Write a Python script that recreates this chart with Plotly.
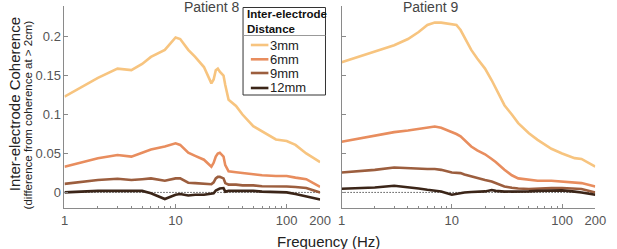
import plotly.graph_objects as go

# ---------------- data ----------------
freq8 = [1, 2, 3, 4, 5, 6, 8, 10, 11, 13, 15, 18, 21, 22, 23, 24, 25, 27, 28, 30, 35, 40, 50, 60, 80, 100, 120, 150, 200]
p8_3mm = [0.123, 0.147, 0.159, 0.157, 0.165, 0.174, 0.183, 0.199, 0.197, 0.183, 0.174, 0.161, 0.140, 0.145, 0.157, 0.159, 0.155, 0.150, 0.138, 0.119, 0.111, 0.100, 0.085, 0.078, 0.068, 0.066, 0.061, 0.050, 0.039]
p8_6mm = [0.033, 0.044, 0.048, 0.046, 0.051, 0.055, 0.059, 0.063, 0.061, 0.051, 0.047, 0.042, 0.033, 0.038, 0.046, 0.050, 0.051, 0.046, 0.035, 0.027, 0.026, 0.025, 0.024, 0.022, 0.021, 0.021, 0.019, 0.017, 0.007]
p8_9mm = [0.011, 0.016, 0.0175, 0.016, 0.017, 0.018, 0.015, 0.018, 0.018, 0.0125, 0.012, 0.011, 0.0105, 0.013, 0.018, 0.020, 0.020, 0.018, 0.012, 0.010, 0.010, 0.009, 0.009, 0.008, 0.008, 0.0077, 0.007, 0.0056, 0.0]
p8_12mm = [0.0, 0.002, 0.002, 0.0015, 0.002, -0.001, -0.0085, -0.003, -0.002, -0.004, -0.003, -0.003, -0.002, -0.001, 0.0025, 0.004, 0.005, 0.0056, 0.001, 0.002, 0.002, 0.002, 0.002, 0.001, 0.0005, 0.0, -0.002, -0.005, -0.009]

freq9 = [1, 2, 3, 4, 5, 6, 7, 8, 10, 11, 12, 13, 15, 17, 20, 23, 25, 30, 35, 40, 50, 60, 80, 100, 130, 150, 200]
p9_3mm = [0.167, 0.181, 0.189, 0.197, 0.206, 0.215, 0.218, 0.218, 0.216, 0.215, 0.2085, 0.200, 0.183, 0.172, 0.159, 0.144, 0.134, 0.112, 0.100, 0.089, 0.076, 0.0675, 0.056, 0.050, 0.044, 0.043, 0.033]
p9_6mm = [0.065, 0.0726, 0.0774, 0.0795, 0.0816, 0.083, 0.0846, 0.083, 0.078, 0.075, 0.072, 0.067, 0.059, 0.054, 0.049, 0.043, 0.039, 0.029, 0.022, 0.018, 0.016, 0.015, 0.015, 0.014, 0.013, 0.012, 0.0077]
p9_9mm = [0.0256, 0.029, 0.032, 0.031, 0.030, 0.030, 0.030, 0.029, 0.0256, 0.025, 0.0248, 0.023, 0.0205, 0.018, 0.016, 0.014, 0.012, 0.0077, 0.006, 0.005, 0.0043, 0.005, 0.0055, 0.0056, 0.005, 0.0043, 0.0]
p9_12mm = [0.0047, 0.0064, 0.0085, 0.0068, 0.005, 0.0034, 0.002, 0.0013, -0.003, -0.002, -0.001, 0.0, 0.0005, 0.001, 0.0013, 0.003, 0.002, 0.001, 0.001, 0.0013, 0.0013, 0.002, 0.0025, 0.0026, 0.001, 0.0, -0.003]

series_names = ["3mm", "6mm", "9mm", "12mm"]
series_colors = ["#F7C47F", "#E88D5E", "#9C5E3E", "#3B2518"]

x_tickvals = [1, 10, 100, 200]
x_ticktext = ["1", "10", "100", "200"]
x_minor = [2, 3, 4, 5, 6, 7, 8, 9, 20, 30, 40, 50, 60, 70, 80, 90]
y_tickvals = [0, 0.05, 0.1, 0.15, 0.2]
y_ticktext = ["0", "0.05", "0.1", "0.15", "0.2"]

# ---------------- figure ----------------
W, H = 617, 249
FONT = "Liberation Sans, Arial, Helvetica, sans-serif"
fig = go.Figure()

p8 = [p8_3mm, p8_6mm, p8_9mm, p8_12mm]
p9 = [p9_3mm, p9_6mm, p9_9mm, p9_12mm]
for name, col, ys in zip(series_names, series_colors, p8):
    fig.add_trace(go.Scatter(x=freq8, y=ys, mode="lines", name=name,
                             line=dict(color=col, width=2.6),
                             xaxis="x", yaxis="y", showlegend=False))
for name, col, ys in zip(series_names, series_colors, p9):
    fig.add_trace(go.Scatter(x=freq9, y=ys, mode="lines", name=name,
                             line=dict(color=col, width=2.6),
                             xaxis="x2", yaxis="y2", showlegend=False))

axis_common = dict(
    showline=True, linecolor="#8a8a8a", linewidth=1,
    ticks="inside", ticklen=4, tickcolor="#8a8a8a",
    showgrid=False, zeroline=False,
    tickfont=dict(family=FONT, size=13, color="#555555"),
)

xcommon = dict(axis_common, type="log", range=[0, 2.30103],
               tickmode="array", tickvals=x_tickvals, ticktext=x_ticktext,
               minor=dict(tickvals=x_minor, ticks="inside", ticklen=2, tickcolor="#8a8a8a"))
ycommon = dict(axis_common, range=[-0.02, 0.24], tickmode="array",
               tickvals=y_tickvals, ticktext=y_ticktext)

fig.update_layout(
    width=W, height=H,
    margin=dict(l=0, r=0, t=0, b=0),
    paper_bgcolor="white", plot_bgcolor="white",
    font=dict(family=FONT),
    xaxis=dict(xcommon, domain=[62 / W, 324 / W], anchor="y"),
    yaxis=dict(ycommon, domain=[1 - 208 / H, 1 - 5.5 / H], anchor="x"),
    xaxis2=dict(xcommon, domain=[346 / W, 606 / W], anchor="y2"),
    yaxis2=dict(ycommon, domain=[1 - 208 / H, 1 - 5.5 / H], anchor="x2", showticklabels=False),
    showlegend=False,
)

# dotted zero lines
for xr, yr in (("x domain", "y"), ("x2 domain", "y2")):
    fig.add_shape(type="line", xref=xr, yref=yr, x0=0, x1=1, y0=0, y1=0,
                  line=dict(color="black", width=1, dash="1px,2px"), layer="below")


def px(x):
    return x / W


def py(y):
    return 1 - y / H


# ---- custom legend (box, title, separator, entries) ----
fig.add_shape(type="rect", xref="paper", yref="paper",
              x0=px(245), x1=px(329.5), y0=py(95), y1=py(7.5),
              line=dict(color="#333333", width=1), fillcolor="white", layer="above")
fig.add_shape(type="line", xref="paper", yref="paper",
              x0=px(245), x1=px(329.5), y0=py(35.5), y1=py(35.5),
              line=dict(color="#999999", width=1), layer="above")
fig.add_annotation(text="<b>Inter-electrode<br>Distance</b>", x=px(247), y=py(21.5),
                   xref="paper", yref="paper", xanchor="left", yanchor="middle", align="left",
                   showarrow=False, font=dict(family=FONT, size=11.5, color="#111111"))
legend_y = [45, 59.3, 73, 88]
for name, col, ly in zip(series_names, series_colors, legend_y):
    fig.add_shape(type="line", xref="paper", yref="paper",
                  x0=px(253), x1=px(271), y0=py(ly), y1=py(ly),
                  line=dict(color=col, width=2.6), layer="above")
    fig.add_annotation(text=name, x=px(270.5), y=py(ly), xref="paper", yref="paper",
                       xanchor="left", yanchor="middle", showarrow=False,
                       font=dict(family=FONT, size=13, color="#222222"))

# titles and labels
fig.add_annotation(text="Patient 8", x=px(182), y=py(7), xref="paper", yref="paper",
                   showarrow=False, yanchor="middle", font=dict(family=FONT, size=14, color="#444444"))
fig.add_annotation(text="Patient 9", x=px(467), y=py(7), xref="paper", yref="paper",
                   showarrow=False, yanchor="middle", font=dict(family=FONT, size=14, color="#444444"))
fig.add_annotation(text="Frequency (Hz)", x=px(333), y=py(241), xref="paper", yref="paper",
                   showarrow=False, yanchor="middle", font=dict(family=FONT, size=15, color="#222222"))
fig.add_annotation(text="Inter-electrode Coherence", x=px(10.5), y=py(104), xref="paper", yref="paper",
                   showarrow=False, textangle=-90, xanchor="center", yanchor="middle",
                   font=dict(family=FONT, size=15, color="#222222"))
fig.add_annotation(text="(difference from coherence at > 2cm)", x=px(25), y=py(115), xref="paper", yref="paper",
                   showarrow=False, textangle=-90, xanchor="center", yanchor="middle",
                   font=dict(family=FONT, size=11.5, color="#222222"))

fig.write_html("out.html", config={"displayModeBar": False},
               post_script="document.body.style.margin='0';document.body.style.padding='0';")
